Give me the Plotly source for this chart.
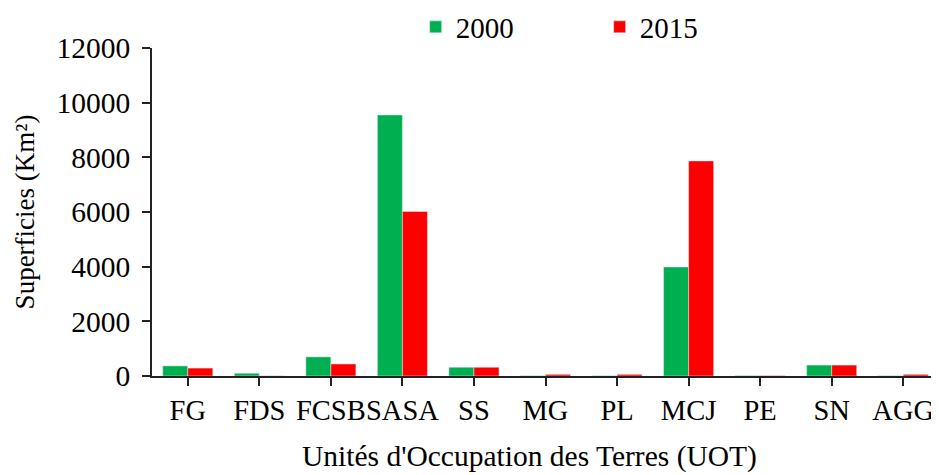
import plotly.graph_objects as go

categories = ["FG", "FDS", "FCSB", "SASA", "SS", "MG", "PL", "MCJ", "PE", "SN", "AGG"]
values_2000 = [370, 100, 700, 9550, 320, 10, 10, 3990, 15, 400, 10]
values_2015 = [290, 5, 440, 6020, 320, 60, 60, 7870, 15, 400, 60]

fig = go.Figure()
fig.add_trace(go.Bar(x=categories, y=values_2000, name="2000", marker_color="#00b050"))
fig.add_trace(go.Bar(x=categories, y=values_2015, name="2015", marker_color="#ff0000"))

font = "Liberation Serif"
# the page body has an 8px margin, so the figure is a bit smaller than the window
fig.update_layout(
    width=931, height=467,
    margin=dict(l=144, r=0, t=40, b=99, autoexpand=False),
    plot_bgcolor="white", paper_bgcolor="white",
    font=dict(family=font, size=29, color="black"),
    barmode="group", bargap=0.3, bargroupgap=0,
    legend=dict(orientation="h", x=0.335, xanchor="left", y=1.064, yanchor="middle",
                font=dict(family=font, size=29), traceorder="normal",
                entrywidthmode="pixels", entrywidth=139),
    xaxis=dict(showline=True, linecolor="#222", linewidth=1.5,
               ticks="outside", ticklen=8, tickcolor="#222", tickwidth=1.5,
               automargin=False, tickangle=0, tickfont=dict(family=font, size=28.5)),
    yaxis=dict(range=[0, 12000], dtick=2000, tickformat="d", showline=True,
               linecolor="#222", linewidth=1.5, ticks="outside", ticklen=8,
               tickcolor="#222", tickwidth=1.5, showgrid=False, zeroline=False,
               automargin=False, ticklabelstandoff=6, tickfont=dict(family=font, size=29.5),
               title=dict(text="Superficies (Km²)", standoff=14,
                          font=dict(family=font, size=27))),
    annotations=[dict(text="Unités d'Occupation des Terres (UOT)", xref="paper", yref="paper",
                      x=0.48, y=-0.19, xanchor="center", yanchor="top", showarrow=False,
                      font=dict(family=font, size=29.5))],
)

fig.write_html("out.html")
